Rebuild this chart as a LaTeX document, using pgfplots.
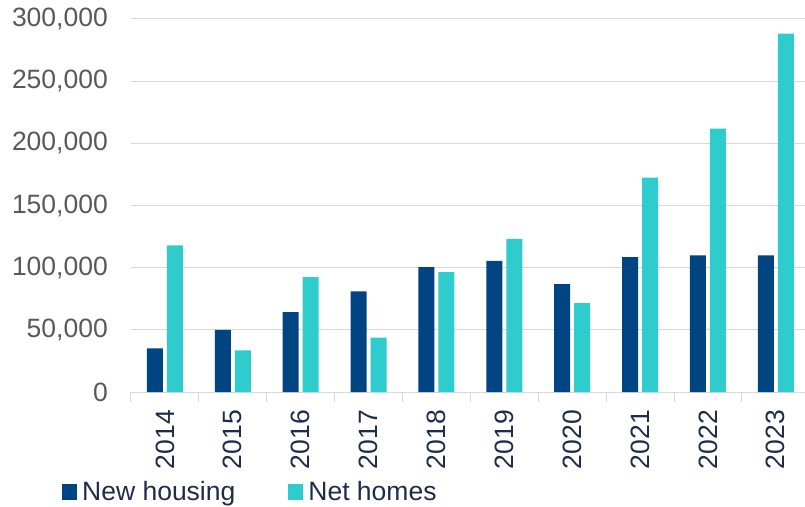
\documentclass[border=0pt]{standalone}
\usepackage{fontspec}
\setmainfont{Liberation Sans}
\usepackage{pgfplots}
\pgfplotsset{compat=1.18}
\definecolor{nh}{RGB}{0,69,129}
\definecolor{net}{RGB}{46,204,204}
\definecolor{ticklab}{RGB}{89,89,89}
\definecolor{xlab}{RGB}{30,43,74}
\definecolor{gridc}{RGB}{217,217,217}
\newcommand{\lbl}{\fontsize{26.5}{30}\selectfont}
\begin{document}
\begin{tikzpicture}
\begin{axis}[
  name=ax,
  at={(0,0)}, anchor=south west,
  scale only axis,
  width=674pt, height=373pt,
  xmin=-0.5, xmax=9.43,
  ymin=0, ymax=300000,
  ybar=4pt, bar width=16pt,
  axis x line*=bottom, axis y line*=left,
  x axis line style={gridc, line width=1pt, -},
  y axis line style={draw=none},
  xtick={0,...,9},
  xticklabels={2014,2015,2016,2017,2018,2019,2020,2021,2022,2023},
  major tick length=0pt,
  minor tick length=10pt,
  minor xtick={-0.5,0.5,1.5,2.5,3.5,4.5,5.5,6.5,7.5,8.5,9.5},
  minor x tick style={gridc, line width=1pt},
  major x tick style={draw=none},
  major y tick style={draw=none},
  xtick align=outside,
  ytick={0,50000,100000,150000,200000,250000,300000},
  scaled y ticks=false,
  /pgf/number format/.cd, fixed, 1000 sep={,}, assume math mode=true,
  /pgfplots/.cd,
  ymajorgrids,
  grid style={gridc, line width=1pt},
  yticklabel style={font=\lbl, text=ticklab, anchor=east, inner sep=0pt, xshift=-23pt},
  xticklabel style={font=\lbl, text=xlab, inner sep=0pt, yshift=-18pt, rotate=90, anchor=east},
  legend columns=2,
  legend cell align=left,
  legend style={draw=none, fill=none, font=\lbl, text=xlab, inner sep=0pt,
    at={(0,0)}, anchor=west, xshift=-69pt, yshift=-100pt,
    nodes={inner xsep=5pt, inner ysep=0pt},
    /tikz/every even column/.append style={column sep=48pt}},
]
\addplot[fill=nh, draw=none, legend image code/.code={\fill[nh] (0pt,-8pt) rectangle (15pt,8pt);}]
  coordinates {(0,35000) (1,50000) (2,64300) (3,81000) (4,100400) (5,105500) (6,86800) (7,108500) (8,109800) (9,109800)};
\addlegendentry{New housing}
\addplot[fill=net, draw=none, legend image code/.code={\fill[net] (0pt,-8pt) rectangle (15pt,8pt);}]
  coordinates {(0,117900) (1,33500) (2,92400) (3,43700) (4,96400) (5,123200) (6,71500) (7,172500) (8,211900) (9,288200)};
\addlegendentry{Net homes}
\end{axis}
\pgfresetboundingbox
\path (-131pt,-114pt) rectangle (674pt,392pt);
\end{tikzpicture}
\end{document}
